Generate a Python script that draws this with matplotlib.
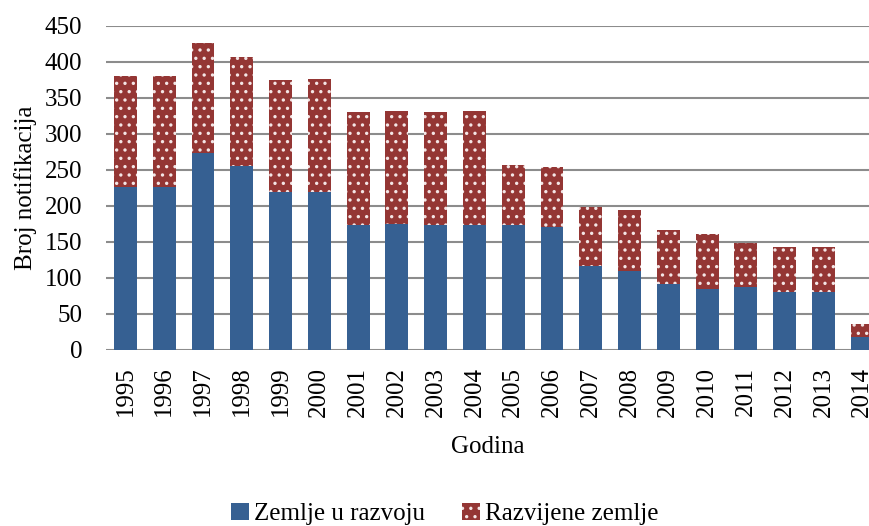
import matplotlib
matplotlib.use("Agg")
import matplotlib.pyplot as plt
from matplotlib.patches import Patch

years = [str(y) for y in range(1995, 2015)]
developing = [227, 227, 273, 255, 219, 220, 174, 175, 174, 174, 174, 171, 116, 110, 92, 85, 87, 81, 80, 18]
totals = [380, 380, 426, 407, 375, 376, 330, 332, 331, 332, 257, 254, 199, 194, 167, 161, 149, 143, 143, 36]
developed = [t - d for t, d in zip(totals, developing)]

blue = "#366092"
red = "#943634"

plt.rcParams["font.family"] = ["Liberation Serif", "DejaVu Serif"]
plt.rcParams["hatch.linewidth"] = 1.2
plt.rcParams["hatch.color"] = "white"

fig = plt.figure(figsize=(8.7, 5.26), dpi=100)
ax = fig.add_axes([106 / 870, 1 - 350 / 526, 1 - 106 / 870, (350 - 26) / 526])

x = list(range(len(years)))
w = 0.59
ax.bar(x, developing, w, color=blue, linewidth=0, zorder=3)
ax.bar(x, developed, w, bottom=developing, color=red, edgecolor="#f4e6e6",
       hatch="..", linewidth=0, zorder=3)

ax.set_xlim(-0.5, 19.2)
ax.set_ylim(0, 450)
ax.set_yticks(range(0, 451, 50))
ax.set_xticks(x)
ax.set_xticklabels(years, rotation=90)
ax.tick_params(axis="both", length=0, labelsize=18)
ax.tick_params(axis="y", pad=17)
ax.tick_params(axis="x", pad=12)
ax.grid(axis="y", color="#8c8c8c", linewidth=1.5, zorder=0)
for s in ax.spines.values():
    s.set_visible(False)

ax.set_ylabel("Broj notifikacija", fontsize=18, labelpad=6)
ax.set_xlabel("Godina", fontsize=18, labelpad=14)

handles = [Patch(facecolor=blue, linewidth=0, label="Zemlje u razvoju"),
           Patch(facecolor=red, edgecolor="#f4e6e6", hatch="..", linewidth=0, label="Razvijene zemlje")]
fig.legend(handles=handles, loc="center", bbox_to_anchor=(445 / 870, 1 - 514 / 526),
           ncol=2, frameon=False, fontsize=18, handlelength=0.7, handleheight=0.7,
           handletextpad=0.2, columnspacing=1.5)

fig.savefig("out.png", dpi=100)
